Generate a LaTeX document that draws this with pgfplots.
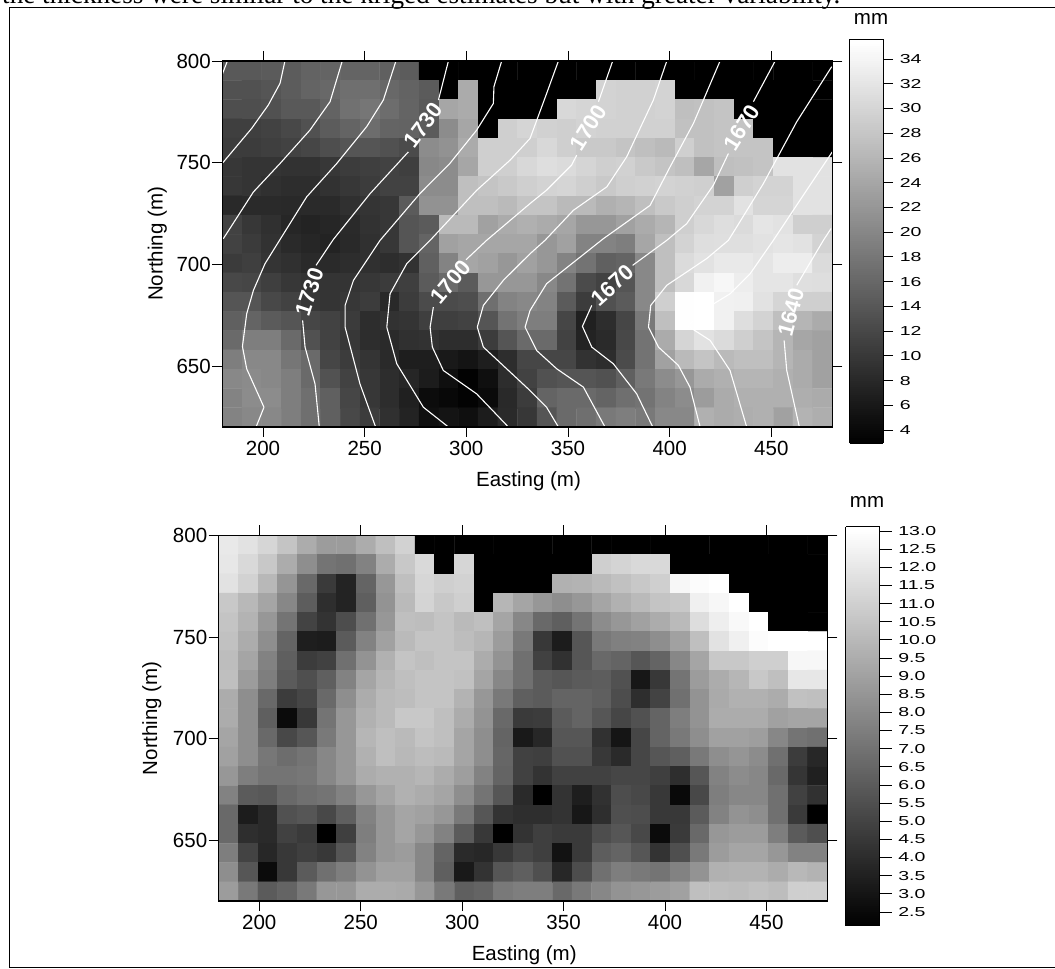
\documentclass[border=0pt]{standalone}
\usepackage{pgfplots}
\pgfplotsset{compat=1.18}
\usepackage{fontspec}
\setmainfont{Liberation Sans}
\newfontfamily\cbf[FakeStretch=1.5]{Liberation Sans}
\newfontfamily\tnr{Liberation Serif}
\newcommand{\fs}{\fontsize{20.5}{22}\selectfont}
\newcommand{\cbs}{\cbf\fontsize{13}{15}\selectfont}
\tikzset{clab/.style={white,font=\bfseries\fontsize{22}{22}\selectfont,inner sep=0pt}}
\pgfplotsset{
  base/.style={
    scale only axis, anchor=south west,
    xmin=180,xmax=480,ymin=620,ymax=800,
    xtick={200,250,...,450},ytick={650,700,750,800},
    tick align=outside,major tick length=10pt,
    tick style={black,line width=0.9pt},
    axis line style={black,line width=1.2pt},
    axis on top,
    /pgf/number format/assume math mode=true,
    /pgf/number format/1000 sep={},
    tick label style={font=\fs},
    xticklabel style={yshift=-1pt},
    yticklabel style={xshift=2pt},
    label style={font=\fs},
    colormap={bw}{gray(0cm)=(0); gray(1cm)=(1)},
    xlabel={Easting (m)},ylabel={Northing (m)},
    xtick pos=both,ytick pos=both,
    xticklabel pos=lower,yticklabel pos=left,
  },
  cont/.style={white,line width=1.1pt,no markers,line join=round},
}
\begin{document}
\begin{tikzpicture}[x=1pt,y=1pt]
\path[use as bounding box] (0,0) rectangle (1055,969);
\begin{scope}
\clip (0,0) rectangle (1055,969);
\node[anchor=base west,inner sep=0pt,font=\tnr\fontsize{27.2}{28}\selectfont] at (2,965.5) {the thickness were similar to the kriged estimates but with greater variability.};
\draw[line width=1pt] (1060,961.5) -- (9.5,961.5) -- (9.5,1.5) -- (1060,1.5);
\end{scope}
\begin{axis}[base,at={(222.3pt,542pt)},width=610pt,height=366pt,
  point meta min=2.95,point meta max=35.58,
  x label style={at={(axis description cs:0.502,-0.1475)},anchor=center},
  y label style={at={(axis description cs:-0.1066,0.5)},anchor=center},
  colorbar sampled,
  colorbar style={
    samples=200,
    at={(parent axis.south east)},anchor=south west,xshift=9pt,yshift=-16pt,
    width=33.4pt,height=403.5pt,
    ytick={4,6,...,34},
    yticklabel pos=right,ytick pos=right,
    tick align=outside,major tick length=10pt,
    tick style={black,line width=0.8pt},
    axis line style={black,line width=0.7pt},
    /pgf/number format/assume math mode=true,
    yticklabel style={font=\cbs,anchor=west,xshift=3pt},
  },
]
\addplot[matrix plot*,mesh/cols=31,mesh/rows=19,point meta=\thisrow{z}] table[row sep=\\,
  x expr={180+(mod(\coordindex,31)+0.5)*300/31},
  y expr={800-(floor((\coordindex+0.5)/31)+0.5)*180/19}] {
z\\
14.2\\14.2\\14.5\\14.7\\15.5\\15.7\\15.7\\15.7\\15.2\\14.7\\3.0\\3.0\\3.0\\3.0\\3.0\\3.0\\3.0\\3.0\\3.0\\3.0\\3.0\\3.0\\3.0\\3.0\\3.0\\3.0\\3.0\\3.0\\3.0\\3.0\\3.0\\
13.2\\13.2\\13.8\\14.7\\15.7\\16.2\\17.0\\17.0\\16.2\\15.5\\14.5\\3.0\\24.7\\3.0\\3.0\\3.0\\3.0\\3.0\\3.0\\29.8\\29.5\\29.5\\29.8\\3.0\\3.0\\3.0\\3.0\\3.0\\3.0\\3.0\\3.0\\
12.9\\12.9\\13.2\\14.2\\14.2\\15.5\\17.3\\18.0\\16.8\\15.7\\14.2\\24.0\\24.7\\3.0\\3.0\\3.0\\3.0\\30.4\\30.0\\29.8\\29.5\\29.5\\29.8\\27.2\\27.5\\27.9\\3.0\\3.0\\3.0\\3.0\\3.0\\
10.9\\10.9\\11.3\\12.1\\13.2\\14.7\\15.7\\16.8\\15.7\\15.5\\14.5\\20.8\\24.0\\3.0\\29.2\\30.0\\29.5\\29.2\\29.8\\29.5\\29.5\\29.5\\29.5\\27.5\\27.5\\27.9\\27.9\\3.0\\3.0\\3.0\\3.0\\
10.6\\10.6\\10.9\\11.3\\11.9\\12.9\\13.8\\13.8\\13.2\\12.5\\20.8\\21.5\\24.7\\29.2\\29.2\\29.2\\30.4\\29.2\\28.5\\28.5\\27.9\\27.2\\26.6\\29.2\\27.5\\27.9\\27.9\\27.9\\3.0\\3.0\\3.0\\
10.0\\9.6\\9.6\\9.3\\9.3\\10.0\\10.6\\10.9\\11.3\\10.9\\20.2\\20.8\\24.0\\29.2\\29.2\\30.4\\31.1\\30.8\\30.0\\29.2\\29.5\\28.5\\27.9\\27.2\\24.0\\27.2\\27.5\\27.9\\31.7\\31.7\\31.7\\
10.0\\9.6\\9.1\\8.7\\8.7\\9.3\\10.0\\10.6\\11.3\\11.3\\20.8\\20.8\\27.2\\27.9\\28.5\\29.2\\29.8\\30.0\\29.2\\28.5\\29.2\\29.5\\29.8\\29.5\\29.2\\23.4\\29.2\\29.8\\29.8\\31.7\\31.7\\
8.1\\8.3\\8.3\\8.1\\8.3\\8.3\\9.1\\9.6\\10.0\\14.5\\21.5\\21.5\\27.2\\27.2\\26.6\\27.9\\27.9\\26.6\\26.6\\25.3\\26.0\\27.2\\28.5\\29.2\\29.8\\29.8\\31.7\\30.0\\30.0\\31.7\\31.7\\
11.3\\10.0\\9.1\\7.8\\7.4\\7.8\\8.3\\9.3\\10.0\\13.8\\14.5\\26.6\\26.6\\23.4\\24.7\\25.3\\24.7\\24.0\\22.1\\22.1\\23.4\\24.7\\26.0\\29.2\\30.4\\31.1\\30.8\\32.1\\31.7\\29.2\\29.2\\
11.3\\10.4\\9.3\\8.3\\7.8\\7.4\\8.1\\9.1\\10.0\\13.8\\15.7\\23.4\\24.0\\24.0\\24.0\\24.0\\22.1\\23.4\\19.6\\19.6\\18.9\\24.0\\27.2\\29.8\\31.1\\31.3\\31.3\\31.7\\32.1\\31.7\\29.8\\
10.4\\10.9\\9.6\\9.1\\8.3\\8.3\\8.7\\9.1\\8.7\\9.3\\15.1\\19.6\\24.0\\23.4\\22.1\\23.4\\22.1\\19.6\\17.6\\15.1\\15.7\\20.2\\27.2\\30.8\\31.7\\32.6\\32.6\\32.1\\33.0\\33.0\\30.8\\
12.1\\11.9\\10.9\\10.0\\9.6\\9.6\\9.6\\10.0\\10.4\\10.9\\14.5\\16.4\\14.5\\22.1\\22.1\\22.1\\20.2\\17.6\\12.5\\11.3\\13.8\\20.2\\27.2\\30.4\\33.6\\34.3\\33.0\\32.1\\32.1\\31.3\\31.1\\
13.8\\13.8\\12.1\\11.3\\10.0\\9.6\\10.0\\10.6\\8.1\\10.6\\12.5\\12.5\\12.9\\17.0\\19.6\\20.2\\19.6\\14.5\\10.6\\13.2\\14.5\\20.2\\29.2\\35.2\\35.5\\33.6\\33.4\\31.7\\30.0\\29.2\\29.2\\
15.1\\15.7\\14.5\\13.8\\11.9\\11.3\\10.4\\8.7\\9.3\\9.6\\10.9\\10.9\\11.3\\13.8\\17.6\\18.9\\18.9\\11.9\\7.0\\8.7\\11.9\\18.3\\27.2\\35.2\\35.3\\33.6\\31.1\\29.8\\27.2\\26.0\\24.7\\
16.4\\18.9\\18.9\\16.4\\13.2\\11.3\\10.0\\8.7\\8.3\\9.1\\9.3\\8.7\\8.7\\10.6\\13.8\\16.4\\16.4\\11.3\\7.4\\8.3\\12.1\\17.6\\24.7\\30.0\\31.7\\30.8\\29.2\\27.9\\26.0\\24.0\\23.4\\
18.9\\20.2\\20.2\\18.0\\16.4\\11.9\\10.6\\9.6\\8.3\\6.8\\6.8\\6.1\\5.5\\6.8\\8.7\\11.9\\11.9\\11.9\\9.3\\8.7\\12.5\\17.6\\23.4\\26.6\\27.9\\26.6\\27.2\\27.2\\26.0\\24.7\\23.4\\
20.2\\20.6\\20.2\\18.9\\16.4\\13.4\\11.3\\10.0\\8.7\\7.8\\6.5\\4.9\\3.2\\4.9\\8.7\\11.3\\13.2\\13.8\\13.8\\13.2\\15.1\\18.3\\20.8\\22.1\\24.7\\25.3\\26.0\\26.0\\25.3\\24.7\\23.4\\
19.6\\20.8\\20.8\\18.9\\17.0\\15.1\\11.9\\10.0\\8.7\\7.0\\4.5\\4.0\\3.3\\4.2\\8.1\\10.6\\15.7\\16.4\\16.4\\15.7\\17.0\\17.6\\19.6\\20.8\\22.8\\24.7\\25.3\\25.3\\25.3\\25.0\\24.7\\
19.6\\20.2\\20.2\\18.9\\17.0\\15.1\\12.1\\10.6\\9.1\\7.4\\4.9\\5.5\\4.9\\6.5\\8.3\\10.0\\13.8\\16.4\\17.0\\18.3\\18.9\\18.3\\20.2\\20.2\\25.3\\24.7\\25.0\\25.3\\23.4\\25.7\\25.0\\
};
% contour lines
\addplot[cont] coordinates {(182.5,800)(180,793.5)};
\addplot[cont] coordinates {(210.8,800)(208.4,789)(202.6,778.3)(194.4,766.8)(180.2,749.9)};
\addplot[cont] coordinates {(239,800)(233,780)(223.1,766)(208.4,749.6)(195.3,735.6)(180.5,712.6)};
\addplot[cont] coordinates {(265.4,800)(259.2,780.8)(251,767.7)(236.3,749.6)(221.5,733.2)(208.7,712.7)(201,700.3)(195.3,687.2)(192,675.7)(189.9,659.6)(192,648.6)(200.5,629.7)(196.6,620)};
\addplot[cont] coordinates {(291.2,800)(286.3,780.8)};
\addplot[cont] coordinates {(271.5,755.3)(252.7,734.8)(234.6,712.2)(226.1,699.5)};
\addplot[cont] coordinates {(219.5,672.4)(220.7,659.3)(225.6,641.2)(227.7,620)};
\addplot[cont] coordinates {(317.4,800)(313.6,787.4)(313.3,779.1)(305.1,766)(291.9,749.6)(277.2,734.8)(257.6,711.8)(244.5,692.1)(240.4,679.8)(240.4,669.1)(247.7,641.2)(255.4,620)};
\addplot[cont] coordinates {(345.3,800)(339.5,784)(331.35,761.9)(321.5,751.2)(305.1,736.4)(282.2,711.8)(270.7,700.3)(262.5,685.5)(260.9,669.1)(265.8,651.1)(278.9,629.7)(291.2,620)};
\addplot[cont] coordinates {(372,800)(365,780)};
\addplot[cont] coordinates {(354.3,753.7)(351.8,748.8)(339.5,736.5)(331.35,729.9)(310,711.8)(299.9,702.3)};
\addplot[cont] coordinates {(283.8,679)(282.2,669.1)(283.3,659.3)(288.7,647.8)(305.1,636.3)(320.7,620)};
\addplot[cont] coordinates {(398.6,800)(392,780.8)(378.9,752.9)(369.1,738.1)(352.7,726.6)(338.7,711.8)(331.35,705.2)(318.2,692.1)(308.4,679.8)(305.4,669.1)(308.4,659.3)(331.35,637.9)(339.5,629.7)(345.3,620)};
\addplot[cont] coordinates {(424.8,800)(411.7,769.3)(400.2,747.9)(390.4,729)(367.4,712.6)(339.5,690.5)(331.35,677.3)(328.9,669.1)(331.35,664.2)(334.6,657.6)(344.5,648.6)(357.6,639.6)(368.2,620)};
\addplot[cont] coordinates {(451.9,800)(441.2,780)};
\addplot[cont] coordinates {(428.9,754.5)(421.5,738.9)(408.4,720)(398.6,711.8)(381.8,699.5)};
\addplot[cont] coordinates {(361.7,679.8)(357.1,669.5)(361.7,659.3)(372.3,651.1)(383.8,636.3)(391.7,620)};
\addplot[cont] coordinates {(479.7,797.2)(462.5,770.1)(446.1,739.7)(433,718.4)(428.9,711.8)(418.2,702.8)(398.6,689.7)(390.7,679.8)(389.6,669.1)(394.5,659.3)(404.3,650.3)(410,639.6)(415,620)};
\addplot[cont] coordinates {(480,755.3)(467.4,736.5)(451,711.8)(439.6,695.4)(429.7,685.5)(415,676.5)(409.2,669.5)(419.9,662.6)(429.7,647.8)(437.9,620)};
\addplot[cont] coordinates {(479.4,717.6)(475.6,711.8)(462.5,689.7)};
\addplot[cont] coordinates {(456.3,662.6)(457.6,647.8)(463.8,620)};
\node[clab,rotate=53] at (axis cs:278.9,768.5) {1730};
\node[clab,rotate=72] at (axis cs:222.8,686.4) {1730};
\node[clab,rotate=58] at (axis cs:360,767.3) {1700};
\node[clab,rotate=50] at (axis cs:292.3,691.3) {1700};
\node[clab,rotate=58] at (axis cs:435.5,767.3) {1670};
\node[clab,rotate=42] at (axis cs:372,689.7) {1670};
\node[clab,rotate=75] at (axis cs:459.6,676.5) {1640};
\end{axis}
\begin{axis}[base,at={(218.7pt,68pt)},width=608.6pt,height=365.6pt,
  point meta min=2.12,point meta max=13.12,
  x label style={at={(axis description cs:0.502,-0.148)},anchor=center},
  y label style={at={(axis description cs:-0.11,0.5)},anchor=center},
  colorbar sampled,
  colorbar style={
    samples=200,
    at={(parent axis.south east)},anchor=south west,xshift=10pt,yshift=-24.7pt,
    width=34pt,height=399pt,
    ytick={2.5,3,...,13},
    yticklabel pos=right,ytick pos=right,
    tick align=outside,major tick length=12pt,
    tick style={black,line width=0.8pt},
    axis line style={black,line width=0.7pt},
    /pgf/number format/assume math mode=true,
    /pgf/number format/fixed,/pgf/number format/fixed zerofill,/pgf/number format/precision=1,
    yticklabel style={font=\cbs,anchor=west,xshift=3pt},
  },
]
\addplot[matrix plot*,mesh/cols=31,mesh/rows=19,point meta=\thisrow{z}] table[row sep=\\,
  x expr={180+(mod(\coordindex,31)+0.5)*300/31},
  y expr={800-(floor((\coordindex+0.5)/31)+0.5)*180/19}] {
z\\
12.1\\11.8\\11.3\\10.5\\9.5\\8.8\\8.8\\9.5\\10.3\\11.1\\2.1\\2.1\\2.1\\2.1\\2.1\\2.1\\2.1\\2.1\\2.1\\2.1\\2.1\\2.1\\2.1\\2.1\\2.1\\2.1\\2.1\\2.1\\2.1\\2.1\\2.1\\
12.0\\11.4\\10.7\\9.5\\8.2\\7.1\\6.9\\7.7\\9.5\\10.7\\11.4\\2.1\\11.3\\2.1\\2.1\\2.1\\2.1\\2.1\\2.1\\11.0\\11.2\\11.4\\11.4\\2.1\\2.1\\2.1\\2.1\\2.1\\2.1\\2.1\\2.1\\
11.8\\11.1\\10.0\\8.5\\6.6\\4.6\\3.6\\6.4\\8.6\\10.3\\11.3\\11.0\\11.1\\2.1\\2.1\\2.1\\2.1\\9.7\\9.8\\10.1\\10.4\\10.7\\11.0\\12.7\\12.9\\13.1\\2.1\\2.1\\2.1\\2.1\\2.1\\
10.7\\10.0\\9.2\\7.9\\6.1\\4.1\\3.6\\6.2\\8.4\\10.1\\11.2\\10.7\\11.0\\2.1\\9.9\\9.2\\8.6\\8.2\\8.6\\9.2\\9.7\\10.1\\10.5\\10.7\\12.4\\12.7\\13.1\\2.1\\2.1\\2.1\\2.1\\
10.5\\9.8\\8.6\\7.1\\5.0\\4.3\\5.4\\6.9\\8.6\\10.3\\10.2\\10.5\\10.1\\10.3\\9.2\\7.9\\6.6\\6.2\\7.1\\8.1\\8.6\\9.0\\9.5\\10.1\\11.6\\12.3\\12.8\\13.1\\2.1\\2.1\\2.1\\
10.4\\9.5\\8.2\\6.4\\3.4\\3.3\\6.0\\7.7\\9.0\\10.1\\10.5\\10.5\\10.2\\9.9\\8.8\\7.3\\4.5\\3.3\\5.8\\7.3\\7.6\\7.7\\8.2\\9.0\\10.3\\11.8\\12.4\\12.9\\13.1\\13.1\\13.1\\
10.2\\9.2\\7.7\\6.2\\4.7\\4.9\\6.9\\8.4\\9.7\\10.5\\10.3\\10.5\\10.5\\9.5\\8.4\\6.9\\4.9\\4.2\\5.8\\6.6\\6.4\\5.8\\6.4\\7.9\\9.2\\10.7\\10.7\\11.0\\11.0\\12.7\\12.7\\
10.3\\8.8\\7.5\\6.0\\5.5\\6.2\\7.7\\9.2\\9.9\\10.3\\10.5\\10.5\\10.4\\9.2\\7.9\\6.9\\6.0\\5.8\\6.0\\6.1\\5.6\\3.1\\4.5\\7.1\\8.8\\9.5\\9.9\\10.7\\10.3\\12.0\\12.0\\
9.5\\8.2\\6.6\\4.7\\5.1\\6.6\\8.2\\9.5\\10.1\\10.2\\10.5\\10.5\\9.8\\8.6\\7.3\\6.2\\6.0\\6.4\\6.4\\6.2\\5.4\\4.1\\5.0\\6.9\\8.4\\9.4\\9.7\\9.7\\9.5\\10.4\\10.3\\
9.5\\8.2\\6.2\\2.6\\4.5\\7.1\\8.6\\9.7\\10.1\\10.7\\10.7\\10.3\\9.5\\8.4\\6.6\\4.6\\4.7\\6.0\\6.4\\5.8\\5.1\\5.6\\6.4\\7.5\\8.4\\9.5\\9.5\\9.5\\9.0\\9.2\\9.2\\
9.2\\8.2\\6.6\\5.2\\5.8\\7.3\\8.6\\9.9\\10.3\\10.1\\10.5\\10.3\\9.2\\8.2\\6.4\\3.2\\3.8\\5.8\\5.8\\4.2\\3.0\\5.1\\6.4\\7.3\\8.2\\9.0\\9.0\\8.9\\7.9\\7.1\\6.9\\
9.0\\8.2\\7.2\\6.8\\7.1\\7.9\\8.6\\9.7\\10.3\\10.0\\10.2\\10.1\\9.2\\8.2\\6.5\\4.9\\4.8\\5.6\\5.6\\4.5\\3.9\\5.1\\5.8\\6.2\\7.3\\8.2\\8.5\\8.1\\6.9\\4.7\\3.8\\
8.6\\7.5\\7.1\\7.1\\7.2\\7.9\\8.6\\9.5\\9.7\\9.7\\9.9\\9.5\\8.9\\7.7\\6.4\\4.9\\4.3\\4.9\\4.9\\4.9\\5.1\\5.1\\4.8\\4.1\\5.8\\7.7\\8.1\\7.9\\6.6\\4.4\\3.5\\
7.7\\6.0\\5.9\\6.6\\6.9\\7.1\\7.7\\8.6\\9.2\\9.7\\9.5\\9.2\\8.2\\7.1\\5.8\\3.9\\2.1\\4.3\\3.4\\4.2\\5.4\\5.2\\4.5\\2.5\\5.2\\7.5\\7.9\\7.9\\6.9\\4.9\\4.2\\
6.6\\3.3\\3.9\\5.6\\5.8\\5.2\\6.2\\7.7\\8.6\\9.2\\9.0\\8.6\\7.3\\5.8\\4.3\\4.1\\4.1\\4.3\\3.1\\4.1\\5.5\\5.4\\4.5\\4.5\\6.0\\7.7\\8.4\\8.2\\6.9\\4.6\\2.1\\
6.6\\4.1\\3.9\\4.9\\4.6\\2.1\\4.8\\7.5\\8.6\\9.2\\8.6\\7.7\\6.0\\4.5\\2.1\\4.3\\4.8\\4.6\\4.6\\5.4\\5.8\\5.2\\2.6\\4.6\\6.6\\8.6\\8.8\\8.8\\7.5\\6.0\\5.5\\
7.5\\5.0\\3.8\\4.5\\4.8\\4.5\\5.8\\7.7\\8.6\\8.8\\7.9\\6.4\\3.9\\3.8\\4.5\\5.1\\4.8\\2.9\\4.6\\6.1\\6.4\\5.8\\4.3\\5.5\\7.3\\8.8\\9.2\\9.2\\8.6\\7.7\\7.7\\
8.2\\5.8\\2.6\\4.5\\6.0\\6.9\\7.5\\8.4\\9.0\\9.0\\7.9\\6.2\\3.2\\4.3\\5.8\\6.2\\5.5\\3.8\\5.4\\6.9\\7.5\\7.3\\7.1\\7.7\\8.4\\9.7\\9.8\\9.8\\9.5\\10.0\\9.8\\
8.8\\7.3\\6.0\\6.4\\7.3\\8.6\\8.6\\9.5\\9.5\\9.4\\8.6\\7.3\\6.2\\6.4\\7.3\\7.5\\7.5\\6.6\\7.3\\7.9\\8.4\\8.6\\8.8\\9.0\\10.3\\10.3\\10.2\\10.4\\10.2\\11.0\\11.0\\
};
\end{axis}
\node[font=\fs] at (871,950) {mm};
\node[font=\fs] at (867,467) {mm};
\end{tikzpicture}
\end{document}
